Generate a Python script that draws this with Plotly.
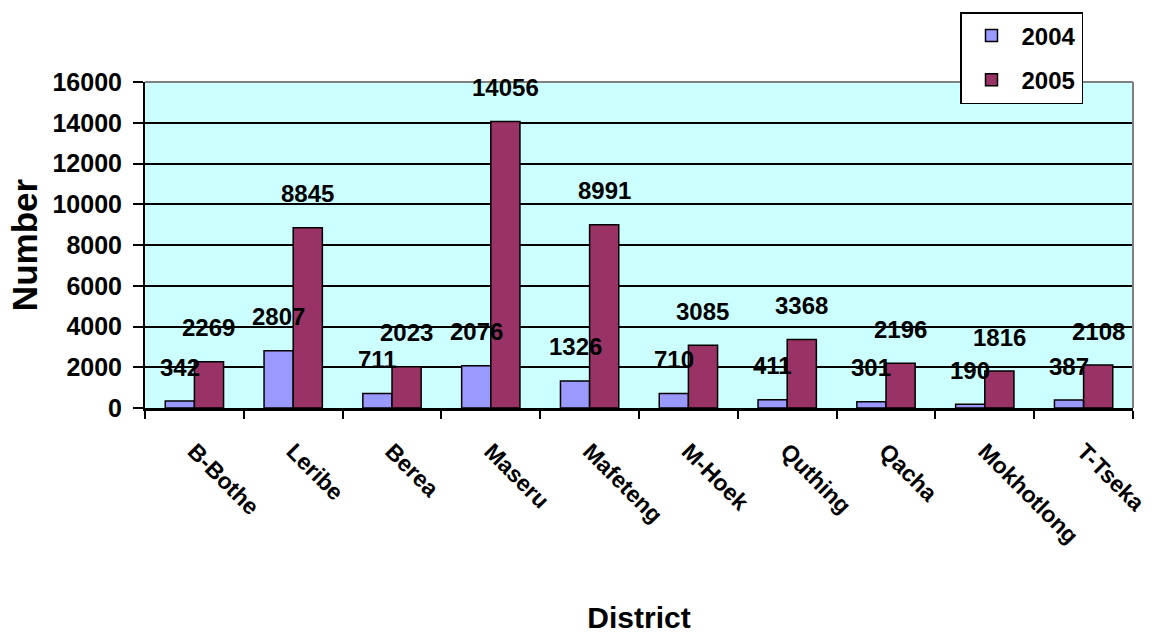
import plotly.graph_objects as go

# District counts for two years
districts = ["B-Bothe", "Leribe", "Berea", "Maseru", "Mafeteng",
             "M-Hoek", "Quthing", "Qacha", "Mokhotlong", "T-Tseka"]
counts_2004 = [342, 2807, 711, 2076, 1326, 710, 411, 301, 190, 387]
counts_2005 = [2269, 8845, 2023, 14056, 8991, 3085, 3368, 2196, 1816, 2108]
y_ticks = [0, 2000, 4000, 6000, 8000, 10000, 12000, 14000, 16000]

W, H = 1164, 634
M_L, M_R, M_T, M_B = 145, 31, 82, 226
BARGAP = 0.41
FONT = "Liberation Sans, Arial, sans-serif"

fig = go.Figure()
fig.add_trace(go.Bar(
    x=districts, y=counts_2004, name="2004", legendgroup="a",
    marker=dict(color="#9999FF", line=dict(color="black", width=1.5)),
))
fig.add_trace(go.Bar(
    x=districts, y=counts_2005, name="2005", legendgroup="b",
    marker=dict(color="#993366", line=dict(color="black", width=1.5)),
))

# value labels floated above each bar
plot_w = W - M_L - M_R
bar_w = plot_w / len(districts) * (1 - BARGAP) / 2
annotations = []
for series, shift in ((counts_2004, -bar_w / 2), (counts_2005, bar_w / 2)):
    for d, v in zip(districts, series):
        annotations.append(dict(
            x=d, y=v, xref="x", yref="y", text=str(v), showarrow=False,
            xshift=shift, yshift=34,
            font=dict(family=FONT, size=24, color="black", weight="bold"),
        ))

fig.update_layout(
    width=W, height=H,
    margin=dict(l=M_L, r=M_R, t=M_T, b=M_B, autoexpand=False),
    paper_bgcolor="white",
    plot_bgcolor="#CCFFFF",
    barmode="group",
    bargap=BARGAP,
    bargroupgap=0,
    font=dict(family=FONT, color="black"),
    annotations=annotations,
    legend=dict(
        xref="container", yref="container",
        x=960 / W, y=1 - 12 / H,
        xanchor="left", yanchor="top",
        bgcolor="white", bordercolor="black", borderwidth=1.5,
        font=dict(family=FONT, size=24, color="black", weight="bold"),
        traceorder="grouped", tracegroupgap=10,
        itemwidth=50, entrywidth=120,
    ),
    shapes=[
        dict(type="line", xref="paper", yref="paper", x0=0, x1=1, y0=1, y1=1,
             line=dict(color="#808080", width=2)),
        dict(type="line", xref="paper", yref="paper", x0=1, x1=1, y0=0, y1=1,
             line=dict(color="#808080", width=2)),
    ],
)

fig.update_xaxes(
    automargin=False,
    showline=True, linecolor="black", linewidth=2.5,
    ticks="outside", tickson="boundaries", ticklen=8, tickcolor="black", tickwidth=1.5,
    tickangle=45, ticklabelstandoff=18,
    tickfont=dict(family=FONT, size=23, color="black", weight="bold"),
    title=dict(text="District", standoff=60,
               font=dict(family=FONT, size=30, color="black", weight="bold")),
    showgrid=False,
)
fig.update_yaxes(
    automargin=False,
    range=[0, 16000], tickvals=y_ticks, ticktext=[str(t) for t in y_ticks],
    showline=True, linecolor="black", linewidth=2,
    ticks="outside", ticklen=10, tickcolor="black", tickwidth=1.5,
    ticklabelstandoff=6,
    showgrid=True, gridcolor="black", gridwidth=1.5, zeroline=False,
    tickfont=dict(family=FONT, size=25, color="black", weight="bold"),
    title=dict(text="Number", standoff=4,
               font=dict(family=FONT, size=35, color="black", weight="bold")),
)

fig.write_html("out.html")
